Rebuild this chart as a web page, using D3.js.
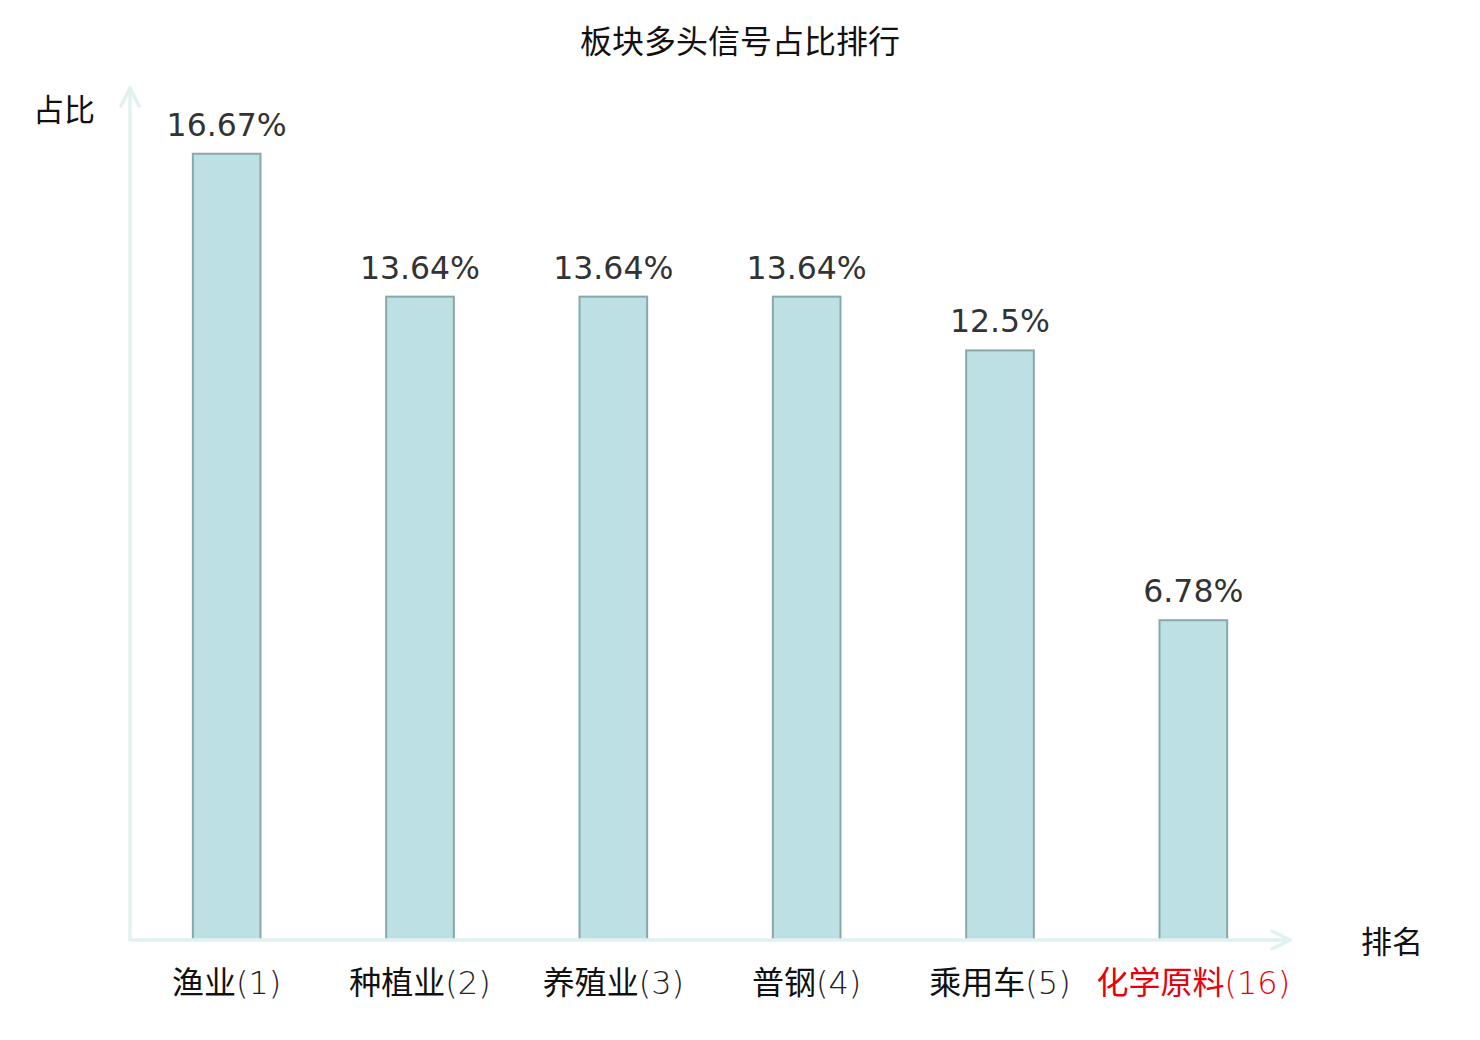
<!DOCTYPE html>
<html>
<head>
<meta charset="utf-8">
<script src="https://cdn.jsdelivr.net/npm/d3@7"></script>
<style>
  body { margin: 0; background: #fff; }
  text { font-family: "DejaVu Sans", "Noto Sans CJK SC", sans-serif; }
</style>
</head>
<body>
<div id="chart"></div>
<script>
// sectors, their rank, and share of bullish signals (%)
const sectors = ["渔业", "种植业", "养殖业", "普钢", "乘用车", "化学原料"];
const ranks = [1, 2, 3, 4, 5, 16];
const shares = [16.67, 13.64, 13.64, 13.64, 12.5, 6.78];
const highlight = [false, false, false, false, false, true];

const chartTitle = "板块多头信号占比排行";
const yName = "占比";
const xName = "排名";

const W = 1480, H = 1040;
const margin = {top: 88, right: 190, bottom: 100, left: 130};

const svg = d3.select("#chart").append("svg")
    .attr("width", W)
    .attr("height", H);

const x = d3.scaleBand()
    .domain(sectors)
    .range([margin.left, W - margin.right])
    .paddingInner(0)
    .paddingOuter(0);

const y = d3.scaleLinear()
    .domain([0, 18])
    .range([H - margin.bottom, 91]);

const axisColor = "#dff2ef";
const baseY = y(0);

// title
svg.append("text")
    .attr("x", W / 2)
    .attr("y", 53)
    .attr("text-anchor", "middle")
    .attr("font-size", 32)
    .attr("fill", "#111")
    .text(chartTitle);

// bars
const barW = x.bandwidth() * 0.35;
svg.append("g").selectAll("rect")
    .data(sectors)
    .join("rect")
    .attr("x", d => x(d) + (x.bandwidth() - barW) / 2)
    .attr("y", (d, i) => y(shares[i]))
    .attr("width", barW)
    .attr("height", (d, i) => baseY - y(shares[i]))
    .attr("fill", "#bce0e3")
    .attr("stroke", "#8aa7a9")
    .attr("stroke-width", 2);

// value labels
svg.append("g").selectAll("text")
    .data(sectors)
    .join("text")
    .attr("x", d => x(d) + x.bandwidth() / 2)
    .attr("y", (d, i) => y(shares[i]) - 18)
    .attr("text-anchor", "middle")
    .attr("font-size", 31.5)
    .attr("fill", "#333")
    .text((d, i) => shares[i] + "%");

// axes with arrows
const axes = svg.append("g")
    .attr("stroke", axisColor)
    .attr("stroke-width", 3.5)
    .attr("fill", "none")
    .attr("stroke-linecap", "round")
    .attr("stroke-linejoin", "round");

const xEnd = x.range()[1];
axes.append("line")
    .attr("x1", margin.left).attr("y1", baseY)
    .attr("x2", xEnd).attr("y2", baseY);
axes.append("path")
    .attr("d", `M${xEnd - 18},${baseY - 9}L${xEnd},${baseY}L${xEnd - 18},${baseY + 9}`);

axes.append("line")
    .attr("x1", margin.left).attr("y1", baseY)
    .attr("x2", margin.left).attr("y2", margin.top);
axes.append("path")
    .attr("d", `M${margin.left - 9},${margin.top + 18}L${margin.left},${margin.top}L${margin.left + 9},${margin.top + 18}`);

// category labels
const cat = svg.append("g").selectAll("text")
    .data(sectors)
    .join("text")
    .attr("x", d => x(d) + x.bandwidth() / 2)
    .attr("y", baseY + 54)
    .attr("text-anchor", "middle")
    .attr("font-size", 32);

cat.append("tspan")
    .attr("fill", (d, i) => highlight[i] ? "#e8000b" : "#111")
    .text(d => d);
cat.append("tspan")
    .attr("font-weight", 200)
    .attr("fill", (d, i) => highlight[i] ? "#e8000b" : "#222")
    .text((d, i) => "(" + ranks[i] + ")");

// axis names
svg.append("text")
    .attr("x", 64)
    .attr("y", 121)
    .attr("text-anchor", "middle")
    .attr("font-size", 31)
    .attr("fill", "#111")
    .text(yName);

svg.append("text")
    .attr("x", 1392)
    .attr("y", 953)
    .attr("text-anchor", "middle")
    .attr("font-size", 31)
    .attr("fill", "#111")
    .text(xName);
</script>
</body>
</html>
